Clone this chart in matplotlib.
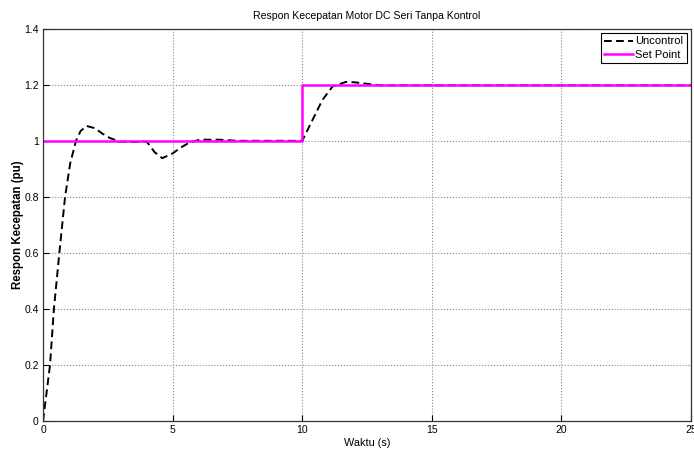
import numpy as np
import matplotlib.pyplot as plt

plt.rcParams['font.family'] = ['Liberation Sans', 'DejaVu Sans']

# respon kecepatan tanpa kontrol
t_unc = [0, 0.27, 0.42, 0.63, 0.85, 1.05, 1.27, 1.45, 1.68, 2.0, 2.3, 2.58, 2.96, 3.5, 4.0,
         4.1, 4.3, 4.6, 5.0, 5.3, 5.65, 6.05, 6.8, 7.5, 10.0,
         10.4, 10.78, 11.17, 11.68, 12.0, 12.45, 13.0, 25.0]
v_unc = [0, 0.2, 0.4, 0.6, 0.8, 0.92, 1.0, 1.035, 1.053, 1.045, 1.025, 1.01, 0.997, 0.996, 0.997,
         0.985, 0.96, 0.938, 0.955, 0.975, 0.994, 1.004, 1.004, 1.0, 1.0,
         1.075, 1.146, 1.194, 1.21, 1.209, 1.204, 1.198, 1.198]

# set point
t_sp = [0, 10, 10, 25]
v_sp = [1.0, 1.0, 1.2, 1.2]

xticks = [0, 5, 10, 15, 20, 25]
yticks = [0, 0.2, 0.4, 0.6, 0.8, 1, 1.2, 1.4]
ylabels = ['0', '0.2', '0.4', '0.6', '0.8', '1', '1.2', '1.4']

fig = plt.figure(figsize=(6.94, 4.53), dpi=100)
ax = fig.add_axes([0.062, 0.0706, 0.9337, 0.866])

ax.plot(t_unc, v_unc, color='black', linestyle=(0, (4, 2.2)), linewidth=1.4, label='Uncontrol')
ax.plot(t_sp, v_sp, color='#ff00ff', linewidth=1.8, label='Set Point')

ax.set_xlim(0, 25)
ax.set_ylim(0, 1.4)
ax.set_xticks(xticks)
ax.set_yticks(yticks)
ax.set_yticklabels(ylabels)
ax.grid(True, linestyle=':', color='#888888', linewidth=0.8)
ax.tick_params(direction='in', length=4, labelsize=7.5, width=0.8, top=False, right=False, pad=3)
for s in ax.spines.values():
    s.set_linewidth(0.9)
    s.set_color('#333333')

ax.set_title('Respon Kecepatan Motor DC Seri Tanpa Kontrol', fontsize=7.6, pad=7)
ax.set_xlabel('Waktu (s)', fontsize=7.8, labelpad=2)
ax.set_ylabel('Respon Kecepatan (pu)', fontsize=8.3, fontweight='bold', labelpad=0)

leg = ax.legend(loc='upper right', fontsize=8, fancybox=False, framealpha=1,
                edgecolor='black', handlelength=2.6, handletextpad=0.2,
                borderpad=0.3, labelspacing=0.3, borderaxespad=0.4)
leg.get_frame().set_linewidth(0.8)

fig.savefig('out.png', dpi=100)
